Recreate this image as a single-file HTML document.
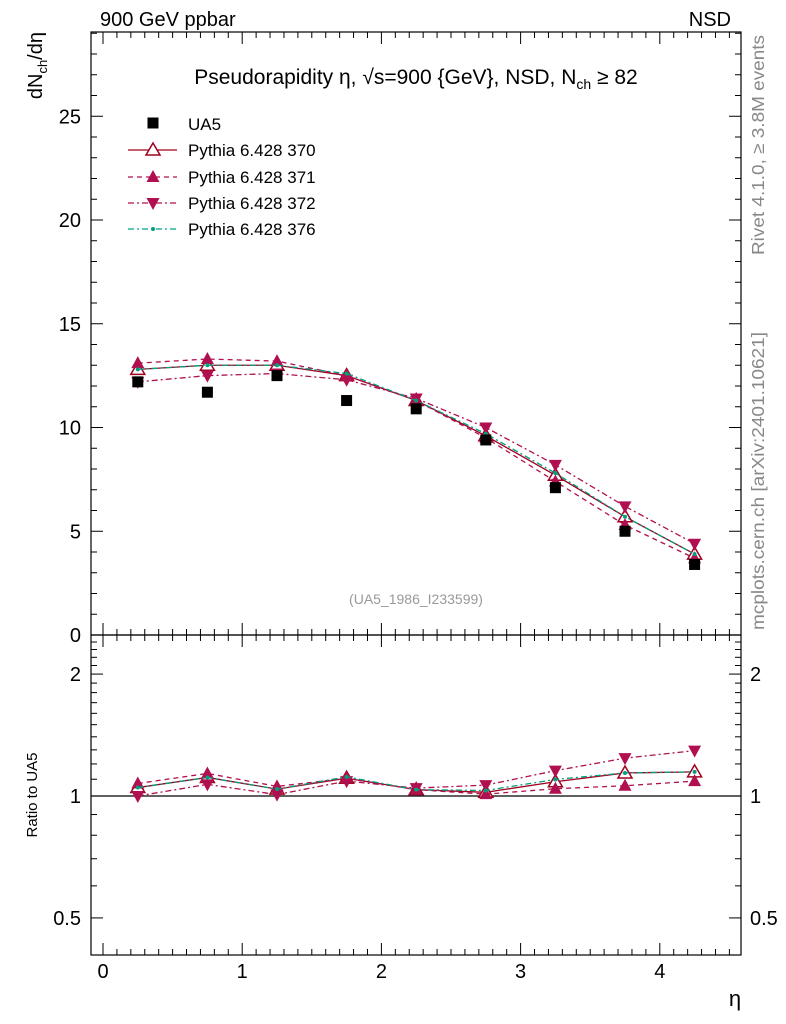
<!DOCTYPE html>
<html><head><meta charset="utf-8"><style>
body{margin:0;background:#fff;}
svg{display:block;font-family:"Liberation Sans",sans-serif;}
</style></head><body>
<svg id="c" width="786" height="1024" viewBox="0 0 786 1024"></svg>
<script>
const etaBins=[0.25,0.75,1.25,1.75,2.25,2.75,3.25,3.75,4.25];
const ua5=[12.2,11.7,12.5,11.3,10.9,9.4,7.1,5.0,3.4];
const py370=[12.8,13.0,13.0,12.5,11.3,9.6,7.7,5.7,3.9];
const py371=[13.1,13.3,13.2,12.5,11.3,9.5,7.4,5.3,3.7];
const py372=[12.2,12.5,12.6,12.3,11.4,10.0,8.2,6.2,4.4];
const py376=[12.8,13.0,13.0,12.6,11.3,9.7,7.8,5.7,3.9];
const xTicks=[0,1,2,3,4];
const yTicks=[0,5,10,15,20,25];
const rTicks=[0.5,1,2];

const NS="http://www.w3.org/2000/svg";
const svg=document.getElementById('c');
const L=91,R=741,T=32,MB=635,RB=955;
const X=v=>103+v*139.2;
const Y=v=>635-v*20.75;
const YR=v=>796-Math.log10(v)*405;
function el(t,a,p){const e=document.createElementNS(NS,t);for(const k in a)e.setAttribute(k,a[k]);(p||svg).appendChild(e);return e;}
function txt(x,y,s,a,p){const e=el('text',Object.assign({x:x,y:y},a||{}),p);e.textContent=s;return e;}

let f1=el('rect',{x:L,y:T,width:R-L,height:MB-T,fill:'none',stroke:'#000','stroke-width':1.2});

let f2=el('rect',{x:L,y:MB,width:R-L,height:RB-MB,fill:'none',stroke:'#000','stroke-width':1.2});


for(let v=0;v<=4.5001;v+=0.1){const x=X(v);const maj=Math.abs(v-Math.round(v))<1e-6;const len=maj?12:6;
 [MB,RB].forEach(b=>el('line',{x1:x,x2:x,y1:b,y2:b-len,stroke:'#000'}));
 el('line',{x1:x,x2:x,y1:T,y2:T+len,stroke:'#000'});el('line',{x1:x,x2:x,y1:MB,y2:MB+len,stroke:'#000'});}
xTicks.forEach(v=>{let t=txt(X(v),978,String(v),{'font-size':20,'text-anchor':'middle'});});
let xt=txt(735,1006,'η',{'font-size':22,'text-anchor':'middle'});

for(let v=0;v<=29;v+=1){const y=Y(v);const len=v%5==0?12:6;
 el('line',{x1:L,x2:L+len,y1:y,y2:y,stroke:'#000'});el('line',{x1:R,x2:R-len,y1:y,y2:y,stroke:'#000'});}
yTicks.forEach(v=>{let t=txt(81,Y(v)+7,String(v),{'font-size':20,'text-anchor':'end'});});
let yt=el('text',{x:0,y:0,'font-size':20,'text-anchor':'end',transform:'translate(42,32) rotate(-90)'});
yt.innerHTML='dN<tspan font-size="13" dy="5">ch</tspan><tspan dy="-5">/dη</tspan>';


for(let v=0.4;v<=2.5001;v+=0.1){const y=YR(v);if(y<MB||y>RB)continue;const maj=rTicks.some(r=>Math.abs(r-v)<1e-6);const len=maj?12:6;
 el('line',{x1:L,x2:L+len,y1:y,y2:y,stroke:'#000'});el('line',{x1:R,x2:R-len,y1:y,y2:y,stroke:'#000'});}
rTicks.forEach(v=>{let t=txt(81,YR(v)+7,String(v),{'font-size':20,'text-anchor':'end'});
 let t2=txt(750,YR(v)+7,String(v),{'font-size':20});});
let rt=txt(0,0,'Ratio to UA5',{'font-size':15,'text-anchor':'middle',transform:'translate(37,795) rotate(-90)'});

el('line',{x1:L,x2:R,y1:YR(1),y2:YR(1),stroke:'#000','stroke-width':1.2});

let a=txt(100,26,'900 GeV ppbar',{'font-size':20});
let b=txt(731,26,'NSD',{'font-size':20,'text-anchor':'end'});
let ti=el('text',{x:416,y:84,'font-size':21,'text-anchor':'middle'});
ti.innerHTML='Pseudorapidity η, √s=900 {GeV}, NSD, N<tspan font-size="14" dy="5">ch</tspan><tspan dy="-5"> ≥ 82</tspan>';

let ref=txt(416,604,'(UA5_1986_I233599)',{'font-size':14,'text-anchor':'middle',fill:'#999'});
let rv=txt(0,0,'Rivet 4.1.0, ≥ 3.8M events',{'font-size':17.5,fill:'#888',textLength:220,lengthAdjust:'spacingAndGlyphs',transform:'translate(764,255) rotate(-90)'});
let mc=txt(0,0,'mcplots.cern.ch [arXiv:2401.10621]',{'font-size':17.5,fill:'#888',textLength:298,lengthAdjust:'spacingAndGlyphs',transform:'translate(764,630) rotate(-90)'});

function marker(type,x,y,col,g){
 if(type=='sq')return el('rect',{x:x-5.5,y:y-5.5,width:11,height:11,fill:'#000'},g);
 if(type=='tri-open')return el('polygon',{points:`${x},${y-7} ${x-7},${y+5} ${x+7},${y+5}`,fill:'#fff',stroke:col,'stroke-width':1.5},g);
 if(type=='tri')return el('polygon',{points:`${x},${y-7} ${x-6.5},${y+5} ${x+6.5},${y+5}`,fill:col},g);
 if(type=='tri-down')return el('polygon',{points:`${x},${y+7} ${x-6.5},${y-5} ${x+6.5},${y-5}`,fill:col},g);
 if(type=='dot')return el('circle',{cx:x,cy:y,r:2,fill:col},g);
}
const series=[
 {name:'pythia-370',vals:py370,col:'#a0001e',dash:'',mk:'tri-open',label:'Pythia 6.428 370'},
 {name:'pythia-371',vals:py371,col:'#b0104f',dash:'5,4',mk:'tri',label:'Pythia 6.428 371'},
 {name:'pythia-372',vals:py372,col:'#b0104f',dash:'6,3,2,3',mk:'tri-down',label:'Pythia 6.428 372'},
 {name:'pythia-376',vals:py376,col:'#00a080',dash:'6,3,2,3',mk:'dot',label:'Pythia 6.428 376'}
];
series.forEach(s=>{
 const g=el('g',{});
 el('polyline',{points:etaBins.map((e,i)=>X(e)+','+Y(s.vals[i])).join(' '),fill:'none',stroke:s.col,'stroke-width':1.3,'stroke-dasharray':s.dash},g);
 etaBins.forEach((e,i)=>marker(s.mk,X(e),Y(s.vals[i]),s.col,g));
 const g2=el('g',{});
 el('polyline',{points:etaBins.map((e,i)=>X(e)+','+YR(s.vals[i]/ua5[i])).join(' '),fill:'none',stroke:s.col,'stroke-width':1.3,'stroke-dasharray':s.dash},g2);
 etaBins.forEach((e,i)=>marker(s.mk,X(e),YR(s.vals[i]/ua5[i]),s.col,g2));
});
const gd=el('g',{});
etaBins.forEach((e,i)=>marker('sq',X(e),Y(ua5[i]),'#000',gd));

const lg=el('g',{});
const ly=[124,150,177,203,229];
marker('sq',153,ly[0]-1,'#000',lg);
let lt=txt(188,ly[0]+6,'UA5',{'font-size':17},lg);
series.forEach((s,i)=>{const y=ly[i+1];
 el('line',{x1:128,x2:177,y1:y,y2:y,stroke:s.col,'stroke-width':1.3,'stroke-dasharray':s.dash},lg);
 marker(s.mk,153,y,s.col,lg);
 let t=txt(188,y+6,s.label,{'font-size':17},lg);});
</script>
</body></html>
